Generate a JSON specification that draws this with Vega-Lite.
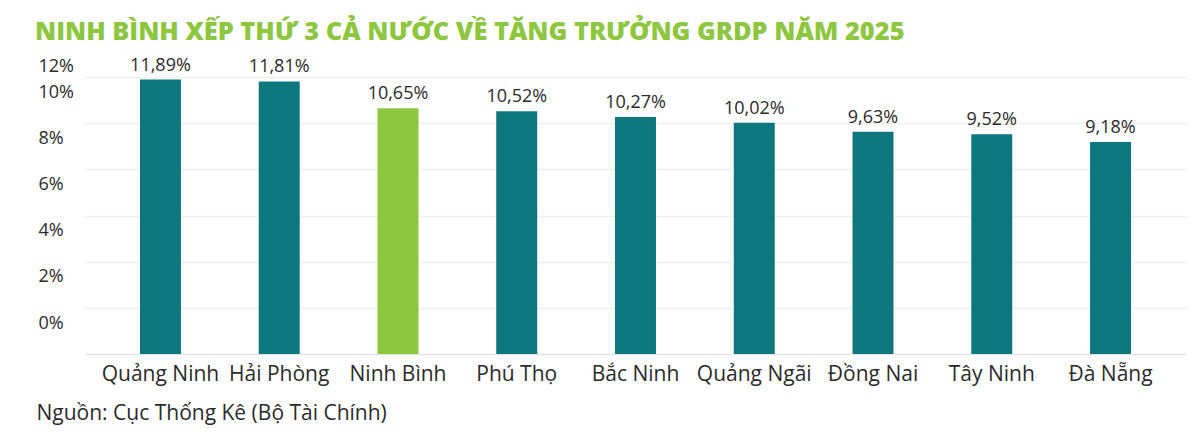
{
  "$schema": "https://vega.github.io/schema/vega-lite/v6.json",
  "width": 1101,
  "height": 277,
  "autosize": {"type": "none"},
  "padding": {"left": 85, "top": 77, "right": 14, "bottom": 80},
  "background": "white",
  "title": {
    "text": "NINH BÌNH XẾP THỨ 3 CẢ NƯỚC VỀ TĂNG TRƯỞNG GRDP NĂM 2025",
    "anchor": "start",
    "dx": -1,
    "offset": 11,
    "font": "Open Sans",
    "fontSize": 25.4,
    "fontWeight": 800,
    "color": "#8DC63F"
  },
  "data": {
    "values": [
      {"province": "Quảng Ninh", "growth": 11.89},
      {"province": "Hải Phòng", "growth": 11.81},
      {"province": "Ninh Bình", "growth": 10.65},
      {"province": "Phú Thọ", "growth": 10.52},
      {"province": "Bắc Ninh", "growth": 10.27},
      {"province": "Quảng Ngãi", "growth": 10.02},
      {"province": "Đồng Nai", "growth": 9.63},
      {"province": "Tây Ninh", "growth": 9.52},
      {"province": "Đà Nẵng", "growth": 9.18}
    ]
  },
  "transform": [
    {"calculate": "replace(format(datum.growth, '.2f'), '.', ',') + '%'", "as": "label"}
  ],
  "encoding": {
    "x": {
      "field": "province",
      "type": "nominal",
      "sort": null,
      "scale": {"paddingInner": 0.655, "paddingOuter": 0.463},
      "axis": {
        "title": "Nguồn: Cục Thống Kê (Bộ Tài Chính)",
        "titleAnchor": "start",
        "titleAlign": "left",
        "titleBaseline": "middle",
        "titleX": -49,
        "titleY": 59,
        "titleFont": "Open Sans",
        "titleFontSize": 21,
        "titleFontWeight": "normal",
        "titleColor": "#2b2b2b",
        "labelAngle": 0,
        "labelFont": "Open Sans",
        "labelFontSize": 21,
        "labelColor": "#2b2b2b",
        "labelPadding": 9,
        "ticks": false,
        "domain": false
      }
    },
    "y": {
      "field": "growth",
      "type": "quantitative",
      "scale": {"domain": [0, 12]},
      "axis": {
        "title": null,
        "values": [0, 2, 4, 6, 8, 10, 12],
        "labelExpr": "datum.value + '%'",
        "labelAlign": "left",
        "labelBaseline": "middle",
        "labelPadding": 47,
        "labelOffset": {"condition": {"test": "datum.value == 12", "value": -11}, "value": -31},
        "labelFont": "Open Sans",
        "labelFontSize": 18,
        "labelColor": "#2b2b2b",
        "labelOverlap": false,
        "labelFlush": false,
        "labelBound": false,
        "ticks": false,
        "tickSize": 0,
        "domain": false,
        "grid": true,
        "gridColor": {"condition": {"test": "datum.value == 0", "value": "#e4e4e4"}, "value": "#f0f0f0"},
        "gridWidth": 1.5
      }
    }
  },
  "layer": [
    {
      "mark": {"type": "bar"},
      "encoding": {
        "color": {
          "condition": {"test": "datum.province === 'Ninh Bình'", "value": "#8DC63F"},
          "value": "#0E777D"
        }
      }
    },
    {
      "mark": {
        "type": "text",
        "baseline": "alphabetic",
        "dy": -9,
        "font": "Open Sans",
        "fontSize": 18,
        "color": "#2b2b2b"
      },
      "encoding": {"text": {"field": "label"}}
    }
  ],
  "config": {"view": {"stroke": null}}
}
